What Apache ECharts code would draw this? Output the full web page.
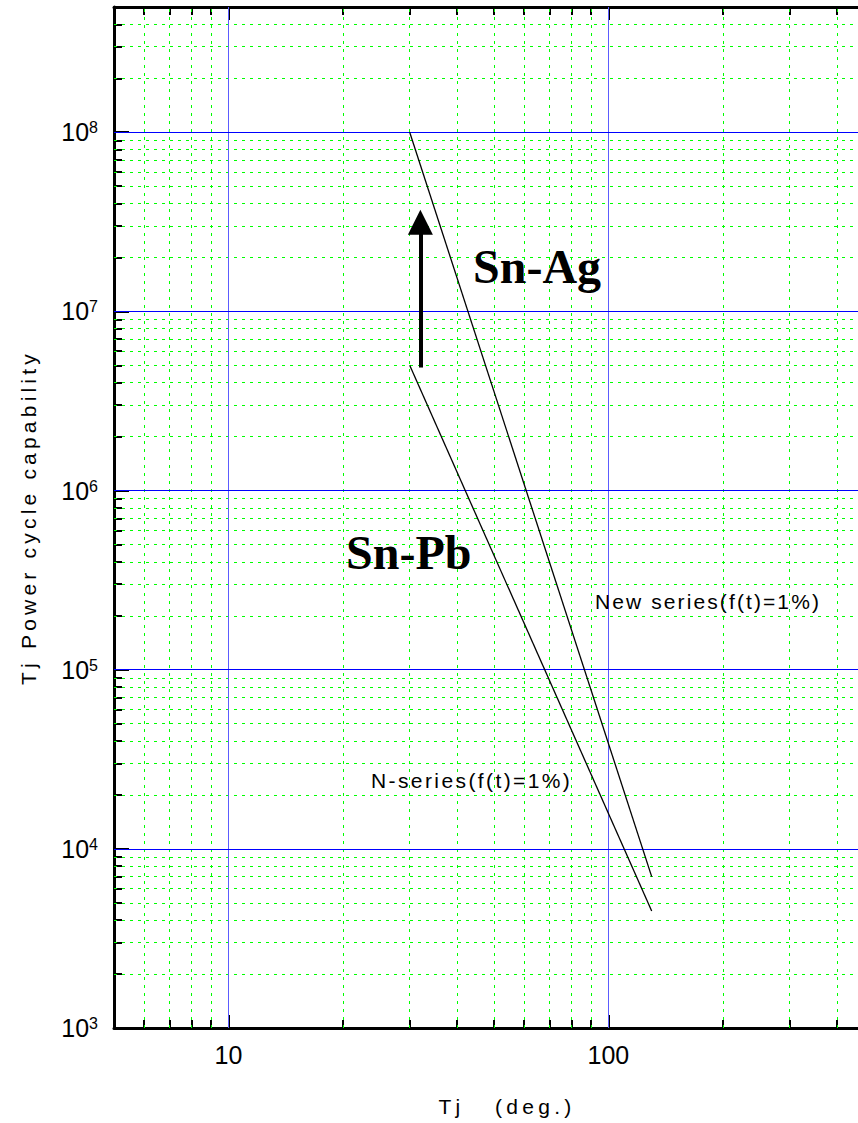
<!DOCTYPE html>
<html><head><meta charset="utf-8">
<script src="https://cdn.jsdelivr.net/npm/echarts@6/dist/echarts.min.js"></script>
<style>
html,body{margin:0;padding:0;background:#fff;overflow:hidden}
#c{width:858px;height:1123px}
#c svg text{white-space:pre}
</style>
</head><body><div id="c"></div>
<script>
// ---- data ----
const snAgTj = [30, 130];
const snAgCycles = [1e8, 7e3];
const snPbTj = [30, 130];
const snPbCycles = [5e6, 4.5e3];
const arrowTj = [32, 32];
const arrowCycles = [4.86e6, 3.14e7];
const xRange = [5, 500];
const yRange = [1e3, 5e8];
const xMajorTicks = [10, 100];
const xMinorTicks = [6, 7, 8, 9, 20, 30, 40, 50, 60, 70, 80, 90, 200, 300, 400];
const yMajorTicks = [1e3, 1e4, 1e5, 1e6, 1e7, 1e8];
const yMajorGrid = [1e4, 1e5, 1e6, 1e7, 1e8];
const yMinorTicks = [
  2e3, 3e3, 4e3, 5e3, 6e3, 7e3, 8e3, 9e3,
  2e4, 3e4, 4e4, 5e4, 6e4, 7e4, 8e4, 9e4,
  2e5, 3e5, 4e5, 5e5, 6e5, 7e5, 8e5, 9e5,
  2e6, 3e6, 4e6, 5e6, 6e6, 7e6, 8e6, 9e6,
  2e7, 3e7, 4e7, 5e7, 6e7, 7e7, 8e7, 9e7,
  2e8, 3e8, 4e8
];
const xTitle = 'Tj   (deg.)';
const yTitle = 'Tj Power cycle capability';
const snAgLabel = 'Sn-Ag';
const snPbLabel = 'Sn-Pb';
const newSeriesLabel = 'New series(f(t)=1%)';
const nSeriesLabel = 'N-series(f(t)=1%)';

const SANS = "'Liberation Sans', Arial, sans-serif";
const SERIF = "'Liberation Serif', 'Times New Roman', serif";
const GREEN = '#00ff00';

function zip(a, b) { return a.map((v, i) => [v, b[i]]); }

function axis(range, pos, opt) {
  const a = {
    type: 'log', logBase: 10, min: range[0], max: range[1], position: pos,
    axisLine: { show: false },
    axisTick: { show: false },
    axisLabel: { show: false },
    splitLine: { show: false },
    minorTick: { show: false },
    minorSplitLine: { show: false }
  };
  if (opt.line) a.axisLine = { show: true, onZero: false, lineStyle: { color: '#000', width: 3 } };
  if (opt.ticks) a.axisTick = { show: true, inside: true, length: opt.len, customValues: opt.ticks,
    lineStyle: { color: '#000', width: 2 } };
  if (opt.label) a.axisLabel = opt.label;
  if (opt.name) { a.name = opt.name.text; a.nameLocation = 'middle'; a.nameGap = opt.name.gap; a.nameTextStyle = opt.name.style; }
  return a;
}

function gridSeries(items, style, z) {
  return {
    type: 'line', xAxisIndex: 0, yAxisIndex: 0, data: [], silent: true, z: z,
    markLine: {
      silent: true, animation: false, symbol: ['none', 'none'],
      label: { show: false }, emphasis: { disabled: true },
      lineStyle: style, data: items
    }
  };
}

const chart = echarts.init(document.getElementById('c'), null, { renderer: 'svg' });

const option = {
  animation: false,
  backgroundColor: '#fff',
  grid: { left: 114, top: 7, width: 760, height: 1021, outerBoundsMode: 'none', containLabel: false },
  xAxis: [
    axis(xRange, 'bottom', {
      line: true, ticks: xMajorTicks, len: 13,
      label: { show: true, customValues: xMajorTicks, margin: 14, color: '#000', fontSize: 25, fontFamily: SANS,
        formatter: v => String(Math.round(v)) },
      name: { text: xTitle, gap: 78, style: { color: '#000', fontSize: 21, fontFamily: SANS, verticalAlign: 'middle', padding: [0, 0, 0, 26] } }
    }),
    axis(xRange, 'bottom', { ticks: xMinorTicks, len: 8 }),
    axis(xRange, 'top', { line: true, ticks: xMajorTicks, len: 13 }),
    axis(xRange, 'top', { ticks: xMinorTicks, len: 8 })
  ],
  yAxis: [
    axis(yRange, 'left', {
      line: true, ticks: yMajorTicks, len: 15,
      label: { show: true, customValues: yMajorTicks, margin: 16,
        formatter: v => '{b|10}{s|' + Math.round(Math.log10(v)) + '}',
        rich: {
          b: { fontSize: 25, fontFamily: SANS, color: '#000' },
          s: { fontSize: 16, fontFamily: SANS, color: '#000', padding: [0, 0, 9, 0] }
        } },
      name: { text: yTitle, gap: 86, style: { color: '#000', fontSize: 21, fontFamily: SANS, verticalAlign: 'middle' } }
    }),
    axis(yRange, 'left', { ticks: yMinorTicks, len: 8 })
  ],
  series: [
    gridSeries(xMinorTicks.map(v => ({ xAxis: v })), { color: GREEN, width: 1, type: [3, 5] }, 1),
    gridSeries(yMinorTicks.map(v => ({ yAxis: v })), { color: GREEN, width: 1, type: [3, 5] }, 1),
    gridSeries(xMajorTicks.map(v => ({ xAxis: v })), { color: '#5c5cff', width: 1, type: 'solid' }, 2),
    gridSeries(yMajorGrid.map(v => ({ yAxis: v })), { color: '#0000ff', width: 1, type: 'solid' }, 2),
    {
      name: snAgLabel, type: 'line', xAxisIndex: 0, yAxisIndex: 0,
      data: zip(snAgTj, snAgCycles), symbol: 'none', silent: true, z: 5,
      lineStyle: { color: '#000', width: 1.3 }
    },
    {
      name: snPbLabel, type: 'line', xAxisIndex: 0, yAxisIndex: 0,
      data: zip(snPbTj, snPbCycles), symbol: 'none', silent: true, z: 5,
      lineStyle: { color: '#000', width: 1.3 },
      markLine: {
        silent: true, animation: false,
        symbol: ['none', 'triangle'], symbolSize: 25,
        label: { show: false },
        lineStyle: { color: '#000', width: 4, type: 'solid' },
        emphasis: { disabled: true },
        data: [[{ coord: [arrowTj[0], arrowCycles[0]] }, { coord: [arrowTj[1], arrowCycles[1]] }]]
      }
    }
  ],
  graphic: [
    { type: 'text', x: 473, y: 266, z: 10, style: { text: snAgLabel, font: 'bold 48px ' + SERIF, fill: '#000', align: 'left', verticalAlign: 'middle' } },
    { type: 'text', x: 346, y: 552, z: 10, style: { text: snPbLabel, font: 'bold 48px ' + SERIF, fill: '#000', align: 'left', verticalAlign: 'middle' } },
    { type: 'text', x: 595, y: 601, z: 10, style: { text: newSeriesLabel, font: '21px ' + SANS, fill: '#000', align: 'left', verticalAlign: 'middle' } },
    { type: 'text', x: 371, y: 780, z: 10, style: { text: nSeriesLabel, font: '21px ' + SANS, fill: '#000', align: 'left', verticalAlign: 'middle' } }
  ]
};
chart.setOption(option);

// wide letter spacing of the original's axis titles and notes
const spacing = {};
spacing[yTitle] = 4.2;
spacing[xTitle] = 4.3;
spacing[newSeriesLabel] = 2.1;
spacing[nSeriesLabel] = 2.4;
function applySpacing() {
  document.querySelectorAll('#c svg text').forEach(t => {
    const s = spacing[t.textContent];
    if (s != null) t.setAttribute('letter-spacing', s + 'px');
  });
}
applySpacing();
chart.on('finished', applySpacing);
</script>
</body></html>
